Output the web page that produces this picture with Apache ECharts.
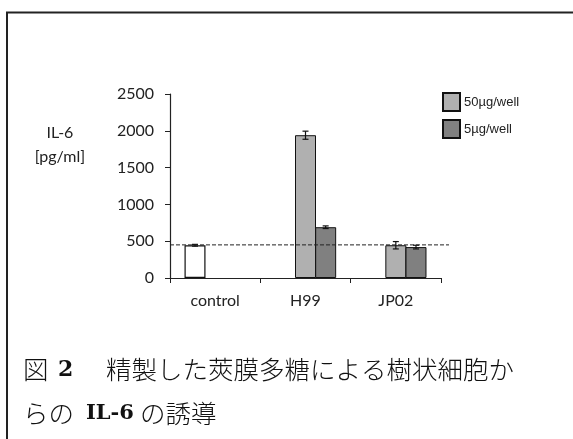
<!DOCTYPE html>
<html>
<head>
<meta charset="utf-8">
<script src="https://cdn.jsdelivr.net/npm/echarts@6/dist/echarts.min.js"></script>
<style>
  html, body { margin: 0; padding: 0; background: #fff; }
  #chart { width: 573px; height: 439px; }
</style>
</head>
<body>
<div id="chart"></div>
<script>
// IL-6 induction by purified capsular polysaccharide
const categories = ['control', 'H99', 'JP02'];
const controlValues = [445, null, null];
const highDoseValues = [null, 1940, 445];   // 50µg/well
const lowDoseValues = [null, 690, 420];     // 5µg/well
const controlErrors = [12, null, null];
const highDoseErrors = [null, 55, 50];
const lowDoseErrors = [null, 18, 25];
const baselineValue = 450;
const yTicks = [0, 500, 1000, 1500, 2000, 2500];
const seriesNames = ['50µg/well', '5µg/well'];

const chart = echarts.init(document.getElementById('chart'), null, { renderer: 'canvas' });

const BAR_W = 21;
const latin = 'Lato, "Open Sans", sans-serif';
const kanji = '"Noto Sans CJK JP"';
const serifBold = '"DejaVu Serif", serif';

function errorData(values, errors, slot) {
  const out = [];
  values.forEach((v, i) => {
    if (v != null && errors[i] != null) out.push([i, v, errors[i], slot]);
  });
  return out;
}

// Error bars sit at the centre of each bar slot within a category
function renderError(params, api) {
  const cat = api.value(0);
  const val = api.value(1);
  const err = api.value(2);
  const slot = api.value(3);
  const center = api.coord([cat, val]);
  const x = center[0] + slot * BAR_W * 0.96;
  const top = api.coord([cat, val + err])[1];
  const bot = api.coord([cat, val - err])[1];
  const cap = 3;
  const style = { stroke: '#111', lineWidth: 1.2 };
  return {
    type: 'group',
    children: [
      { type: 'line', shape: { x1: x, y1: top, x2: x, y2: bot }, style },
      { type: 'line', shape: { x1: x - cap, y1: top, x2: x + cap, y2: top }, style },
      { type: 'line', shape: { x1: x - cap, y1: bot, x2: x + cap, y2: bot }, style }
    ]
  };
}

// Dashed reference line at the control level, running slightly past the axis end
function renderBaseline(params, api) {
  const cs = params.coordSys;
  const y = api.coord([0, api.value(0)])[1];
  return {
    type: 'line',
    shape: { x1: cs.x, y1: y, x2: cs.x + cs.width + 8, y2: y },
    style: { stroke: '#222', lineWidth: 1, lineDash: [4, 2] }
  };
}

function captionText(text, left, top, family, size, weight) {
  return {
    type: 'text',
    left: left,
    top: top,
    silent: true,
    style: {
      text: text,
      fill: '#111',
      fontFamily: family,
      fontSize: size,
      fontWeight: weight
    }
  };
}

const option = {
  animation: false,
  backgroundColor: '#fff',
  grid: { left: 170, top: 94, width: 271, height: 184, containLabel: false },
  legend: {
    data: seriesNames,
    orient: 'vertical',
    left: 442,
    top: 92,
    padding: 0,
    itemWidth: 17,
    itemHeight: 18,
    itemGap: 7,
    icon: 'rect',
    textStyle: { fontFamily: '"Liberation Sans", Arial, sans-serif', fontSize: 13, color: '#222', padding: [0, 0, 0, -1] }
  },
  xAxis: {
    type: 'category',
    data: categories,
    axisLine: { lineStyle: { color: '#222', width: 1.2 } },
    axisTick: { show: true, length: 5, lineStyle: { color: '#222' } },
    axisLabel: { color: '#222', fontFamily: latin, fontSize: 16, margin: 15 },
    splitLine: { show: false }
  },
  yAxis: {
    type: 'value',
    min: yTicks[0],
    max: yTicks[yTicks.length - 1],
    interval: yTicks[1] - yTicks[0],
    axisLine: { show: true, lineStyle: { color: '#222', width: 1.2 } },
    axisTick: { show: true, length: 5, lineStyle: { color: '#222' } },
    axisLabel: { color: '#222', fontFamily: latin, fontSize: 16, margin: 16, formatter: (v) => String(v) },
    splitLine: { show: false }
  },
  series: [
    {
      name: 'control',
      type: 'bar',
      data: controlValues,
      barWidth: BAR_W,
      itemStyle: { color: '#ffffff', borderColor: '#111', borderWidth: 1.2 }
    },
    {
      name: seriesNames[0],
      type: 'bar',
      data: highDoseValues,
      barWidth: BAR_W,
      itemStyle: { color: '#b0b0b0', borderColor: '#111', borderWidth: 1 }
    },
    {
      name: seriesNames[1],
      type: 'bar',
      data: lowDoseValues,
      barWidth: BAR_W,
      barGap: '-4%',
      itemStyle: { color: '#808080', borderColor: '#111', borderWidth: 1 }
    },
    {
      type: 'custom',
      renderItem: renderError,
      data: errorData(controlValues, controlErrors, -1)
        .concat(errorData(highDoseValues, highDoseErrors, 0))
        .concat(errorData(lowDoseValues, lowDoseErrors, 1)),
      z: 5,
      silent: true
    },
    {
      type: 'custom',
      renderItem: renderBaseline,
      data: [[baselineValue]],
      encode: { y: 0 },
      z: 6,
      silent: true
    }
  ],
  graphic: [
    {
      type: 'rect',
      shape: { x: 7, y: 12.5, width: 620, height: 500 },
      style: { fill: 'none', stroke: '#222', lineWidth: 2 },
      silent: true
    },
    {
      type: 'text',
      x: 60,
      y: 121,
      silent: true,
      style: {
        text: 'IL-6\n[pg/ml]',
        fill: '#222',
        fontFamily: latin,
        fontSize: 16,
        lineHeight: 24,
        align: 'center',
        verticalAlign: 'top'
      }
    },
    captionText('図', 23, 357, kanji, 25.5, 300),
    captionText('2', 58, 359, serifBold, 22, 'bold'),
    captionText('精製した莢膜多糖による樹状細胞か', 106, 357, kanji, 25.5, 300),
    captionText('らの', 23, 401, kanji, 25.5, 300),
    captionText('IL-6', 86, 403, serifBold, 21, 'bold'),
    captionText('の誘導', 140, 401, kanji, 25.5, 300)
  ]
};

chart.setOption(option);
</script>
</body>
</html>
